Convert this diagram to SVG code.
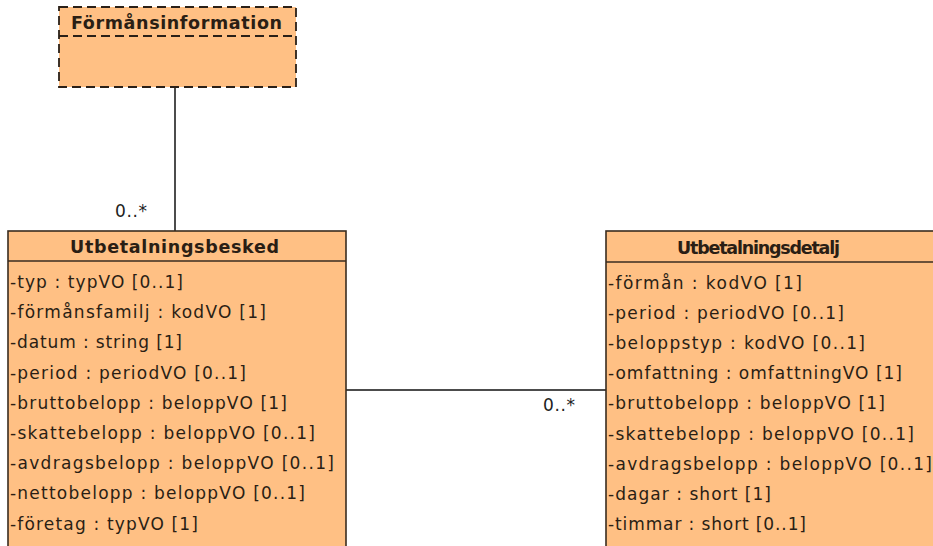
<svg xmlns="http://www.w3.org/2000/svg" width="933" height="546" viewBox="0 0 933 546">
<style>
.box{fill:#FFC084;stroke:#3a2c20;stroke-width:1.6}
.dash{fill:#FFC084;stroke:#2a2018;stroke-width:1.8;stroke-dasharray:9 5}
.sep{stroke:#3a2c20;stroke-width:1.6;fill:none}
.sepd{stroke:#2a2018;stroke-width:1.8;stroke-dasharray:9 5;fill:none}
.title{font-family:"DejaVu Sans","Liberation Sans",sans-serif;font-weight:bold;font-size:17.5px;fill:#2a1e14}
.attr{font-family:"DejaVu Sans","Liberation Sans",sans-serif;font-size:17px;fill:#2a1e14}
.lbl{font-family:"DejaVu Sans","Liberation Sans",sans-serif;font-size:17px;fill:#222}
.conn{stroke:#111;stroke-width:1.5;fill:none}
</style>
<rect width="933" height="546" fill="#ffffff"/>
<g id="connectors">
<line class="conn" x1="175" y1="87" x2="175" y2="231"/>
<line class="conn" x1="346" y1="390" x2="606" y2="390"/>
<text class="lbl" x="115" y="217" textLength="32" lengthAdjust="spacing">0..*</text>
<text class="lbl" x="543" y="411" textLength="32" lengthAdjust="spacing">0..*</text>
</g>
<g id="formansinformation">
<rect class="dash" x="59" y="7" width="237" height="80"/>
<line class="sepd" x1="59" y1="36" x2="296" y2="36"/>
<text class="title" x="71" y="29" textLength="211" lengthAdjust="spacing">Förmånsinformation</text>
</g>
<g id="utbetalningsbesked">
<rect class="box" x="8" y="231" width="338" height="330"/>
<line class="sep" x1="8" y1="261" x2="346" y2="261"/>
<text class="title" x="70" y="253" textLength="209" lengthAdjust="spacing">Utbetalningsbesked</text>
<text class="attr" x="10" y="288" textLength="173" lengthAdjust="spacing">-typ : typVO [0..1]</text>
<text class="attr" x="10" y="318.2" textLength="256" lengthAdjust="spacing">-förmånsfamilj : kodVO [1]</text>
<text class="attr" x="10" y="348.4" textLength="172" lengthAdjust="spacing">-datum : string [1]</text>
<text class="attr" x="10" y="378.6" textLength="236" lengthAdjust="spacing">-period : periodVO [0..1]</text>
<text class="attr" x="10" y="408.8" textLength="277" lengthAdjust="spacing">-bruttobelopp : beloppVO [1]</text>
<text class="attr" x="10" y="439" textLength="305" lengthAdjust="spacing">-skattebelopp : beloppVO [0..1]</text>
<text class="attr" x="10" y="469.2" textLength="324" lengthAdjust="spacing">-avdragsbelopp : beloppVO [0..1]</text>
<text class="attr" x="10" y="499.4" textLength="295" lengthAdjust="spacing">-nettobelopp : beloppVO [0..1]</text>
<text class="attr" x="10" y="529.6" textLength="188" lengthAdjust="spacing">-företag : typVO [1]</text>
</g>
<g id="utbetalningsdetalj">
<rect class="box" x="606" y="231" width="340" height="330"/>
<line class="sep" x1="606" y1="262" x2="946" y2="262"/>
<text class="title" x="677" y="254" textLength="163" lengthAdjust="spacing">Utbetalningsdetalj</text>
<text class="attr" x="608" y="288.5" textLength="194" lengthAdjust="spacing">-förmån : kodVO [1]</text>
<text class="attr" x="608" y="318.7" textLength="236" lengthAdjust="spacing">-period : periodVO [0..1]</text>
<text class="attr" x="608" y="348.9" textLength="257" lengthAdjust="spacing">-beloppstyp : kodVO [0..1]</text>
<text class="attr" x="608" y="379.1" textLength="294" lengthAdjust="spacing">-omfattning : omfattningVO [1]</text>
<text class="attr" x="608" y="409.3" textLength="277" lengthAdjust="spacing">-bruttobelopp : beloppVO [1]</text>
<text class="attr" x="608" y="439.5" textLength="306" lengthAdjust="spacing">-skattebelopp : beloppVO [0..1]</text>
<text class="attr" x="608" y="469.7" textLength="324" lengthAdjust="spacing">-avdragsbelopp : beloppVO [0..1]</text>
<text class="attr" x="608" y="499.9" textLength="163" lengthAdjust="spacing">-dagar : short [1]</text>
<text class="attr" x="608" y="530.1" textLength="198" lengthAdjust="spacing">-timmar : short [0..1]</text>
</g>
</svg>
